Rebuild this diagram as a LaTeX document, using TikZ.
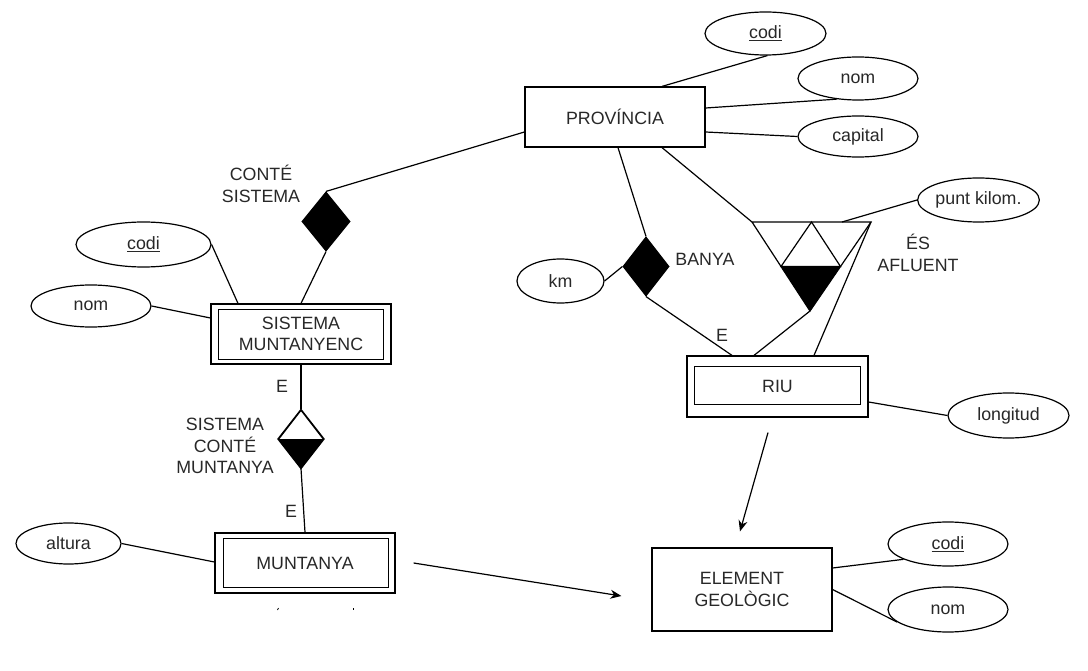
\documentclass[tikz,border=0pt]{standalone}
\usepackage{fontspec}
\setmainfont{Liberation Sans}
\usetikzlibrary{shapes.geometric,arrows.meta,calc}
\definecolor{txt}{RGB}{40,40,40}
\begin{document}
\begin{tikzpicture}[x=1pt,y=-1pt,line width=1.2pt,
  every node/.style={font=\fontsize{17.8}{21.5}\selectfont, text=txt},
  ent/.style={draw, rectangle, minimum width=180pt, minimum height=60pt, inner sep=0pt, align=center},
  attr/.style={draw, ellipse, inner sep=0pt},
  rel/.style={draw, diamond, fill=black, inner sep=0pt, minimum width=48pt, minimum height=59pt},
  lbl/.style={align=center, inner sep=0pt},
  arr/.style={-{Stealth[length=11pt,width=9pt]}}
]
\useasboundingbox (0,0) rectangle (1088,671);
\fill[white] (0,0) rectangle (1088,671);

% entities
\node[ent] (prov) at (615,117) {PROVÍNCIA};
\node[ent] (sm) at (301,334) {SISTEMA\\MUNTANYENC};
\node[ent] (mun) at (305,563) {MUNTANYA};
\node[ent, minimum height=83pt] (eg) at (742,589.5) {ELEMENT\\GEOLÒGIC};
\node[ent, minimum width=181pt, minimum height=61pt] (riu) at (777.5,386.5) {RIU};
% inner rectangles of weak entities
\draw ([shift={(8pt,-6pt)}]sm.north west) rectangle ([shift={(-8pt,5pt)}]sm.south east);
\draw ([shift={(9pt,-6pt)}]mun.north west) rectangle ([shift={(-7pt,6pt)}]mun.south east);
\draw ([shift={(8pt,-11pt)}]riu.north west) rectangle ([shift={(-8pt,13pt)}]riu.south east);

% attributes
\node[attr, minimum width=121pt, minimum height=43pt] (codiA) at (765.5,33.5) {\underline{codi}};
\node[attr, minimum width=120pt, minimum height=43pt] (nomA) at (858,78.5) {nom};
\node[attr, minimum width=120pt, minimum height=41pt] (capA) at (858,136.5) {capital};
\node[attr, minimum width=135pt, minimum height=45pt] (codiB) at (143.5,244.5) {\underline{codi}};
\node[attr, minimum width=120pt, minimum height=42pt] (nomB) at (91,306) {nom};
\node[attr, minimum width=105pt, minimum height=41pt] (alt) at (68.5,543.5) {altura};
\node[attr, minimum width=120pt, minimum height=44pt] (codiC) at (948,544) {\underline{codi}};
\node[attr, minimum width=120pt, minimum height=45pt] (nomC) at (948,609.5) {nom};
\node[attr, minimum width=121pt, minimum height=45pt] (lon) at (1008.5,415.5) {longitud};
\node[attr, minimum width=87pt, minimum height=44pt] (km) at (560.5,281) {km};
\node[attr, minimum width=119pt, minimum height=44pt] (punt) at (978.5,200) {punt kilom.};

% relationships
\node[rel] (d1) at (326,221.5) {};
\node[rel, fill=white, minimum width=45pt, minimum height=58pt] (d2) at (301,439) {};
\fill (d2.west) -- (d2.east) -- (d2.south) -- cycle;
\draw (d2.north) -- (d2.east) -- (d2.south) -- (d2.west) -- cycle;
\node[rel, minimum width=46pt] (d3) at (646,266.5) {};

% ternary triangle (ÉS AFLUENT)
\coordinate (t1) at (752,222);
\coordinate (t2) at (871,222);
\coordinate (t3) at (810,311);
\coordinate (tm) at ($(t1)!0.5!(t2)$);
\coordinate (tl) at ($(t1)!0.5!(t3)$);
\coordinate (tr) at ($(t2)!0.5!(t3)$);
\fill (tl) -- (tr) -- (t3) -- cycle;
\draw (t1) -- (t2) -- (t3) -- cycle;
\draw (tm) -- (tl) -- (tr) -- cycle;
\coordinate (tp) at (842,222);

% labels
\node[lbl] (l1) at (261,184) {CONTÉ\\SISTEMA};
\node[lbl] (l2) at (225,446) {SISTEMA\\CONTÉ\\MUNTANYA};
\node[lbl] (l3) at (705,259) {BANYA};
\node[lbl] (l4) at (918,253) {ÉS\\AFLUENT};
\node[lbl] (e1) at (282,386) {E};
\node[lbl] (e2) at (291,511) {E};
\node[lbl] (e3) at (722,335) {E};

% connectors: PROVÍNCIA
\draw ([xshift=47pt]prov.north) -- (codiA.-85);
\draw ([yshift=9pt]prov.east) -- (nomA.224);
\draw ([yshift=-15pt]prov.east) -- (capA.west);
\draw ([yshift=-15pt]prov.west) -- (d1.north);
\draw ([xshift=3pt]prov.south) -- (d3.north);
\draw ([xshift=47pt]prov.south) -- (t1);

% SISTEMA MUNTANYENC
\draw (d1.south) -- (sm.north);
\draw (codiB.east) -- ([xshift=-63pt]sm.north);
\draw (nomB.east) -- ([yshift=16pt]sm.west);
\draw (sm.south) -- (d2.north);
\draw (d2.south) -- (mun.north);

% MUNTANYA
\draw (alt.east) -- ([yshift=1pt]mun.west);
\coordinate (a1s) at ([xshift=18pt]mun.east);
\coordinate (a1e) at ([xshift=-30pt,yshift=-6.5pt]eg.west);
\draw[arr] (a1s) -- (a1e);

% BANYA / RIU
\draw (km.east) -- (d3.west);
\draw (d3.south) -- ([xshift=-45.5pt]riu.north);
\draw (t3) -- ([xshift=-23.5pt]riu.north);
\draw (t2) -- ([xshift=36.5pt]riu.north);
\draw (punt.west) -- (tp);
\draw ([yshift=-15.5pt]riu.east) -- (lon.west);
\coordinate (a2s) at ([xshift=-9.5pt,yshift=-15pt]riu.south);
\coordinate (a2e) at ([xshift=-2pt,yshift=16pt]eg.north);
\draw[arr] (a2s) -- (a2e);

% ELEMENT GEOLÒGIC
\draw ([yshift=21.5pt]eg.east) -- (codiC.199);
\draw (eg.east) -- (nomC.194);

% tiny marks below MUNTANYA
\draw[line width=0.8pt] (277.5,610) -- (278.5,608);
\draw[line width=0.8pt] (353,608) -- (353,610);
\end{tikzpicture}
\end{document}
